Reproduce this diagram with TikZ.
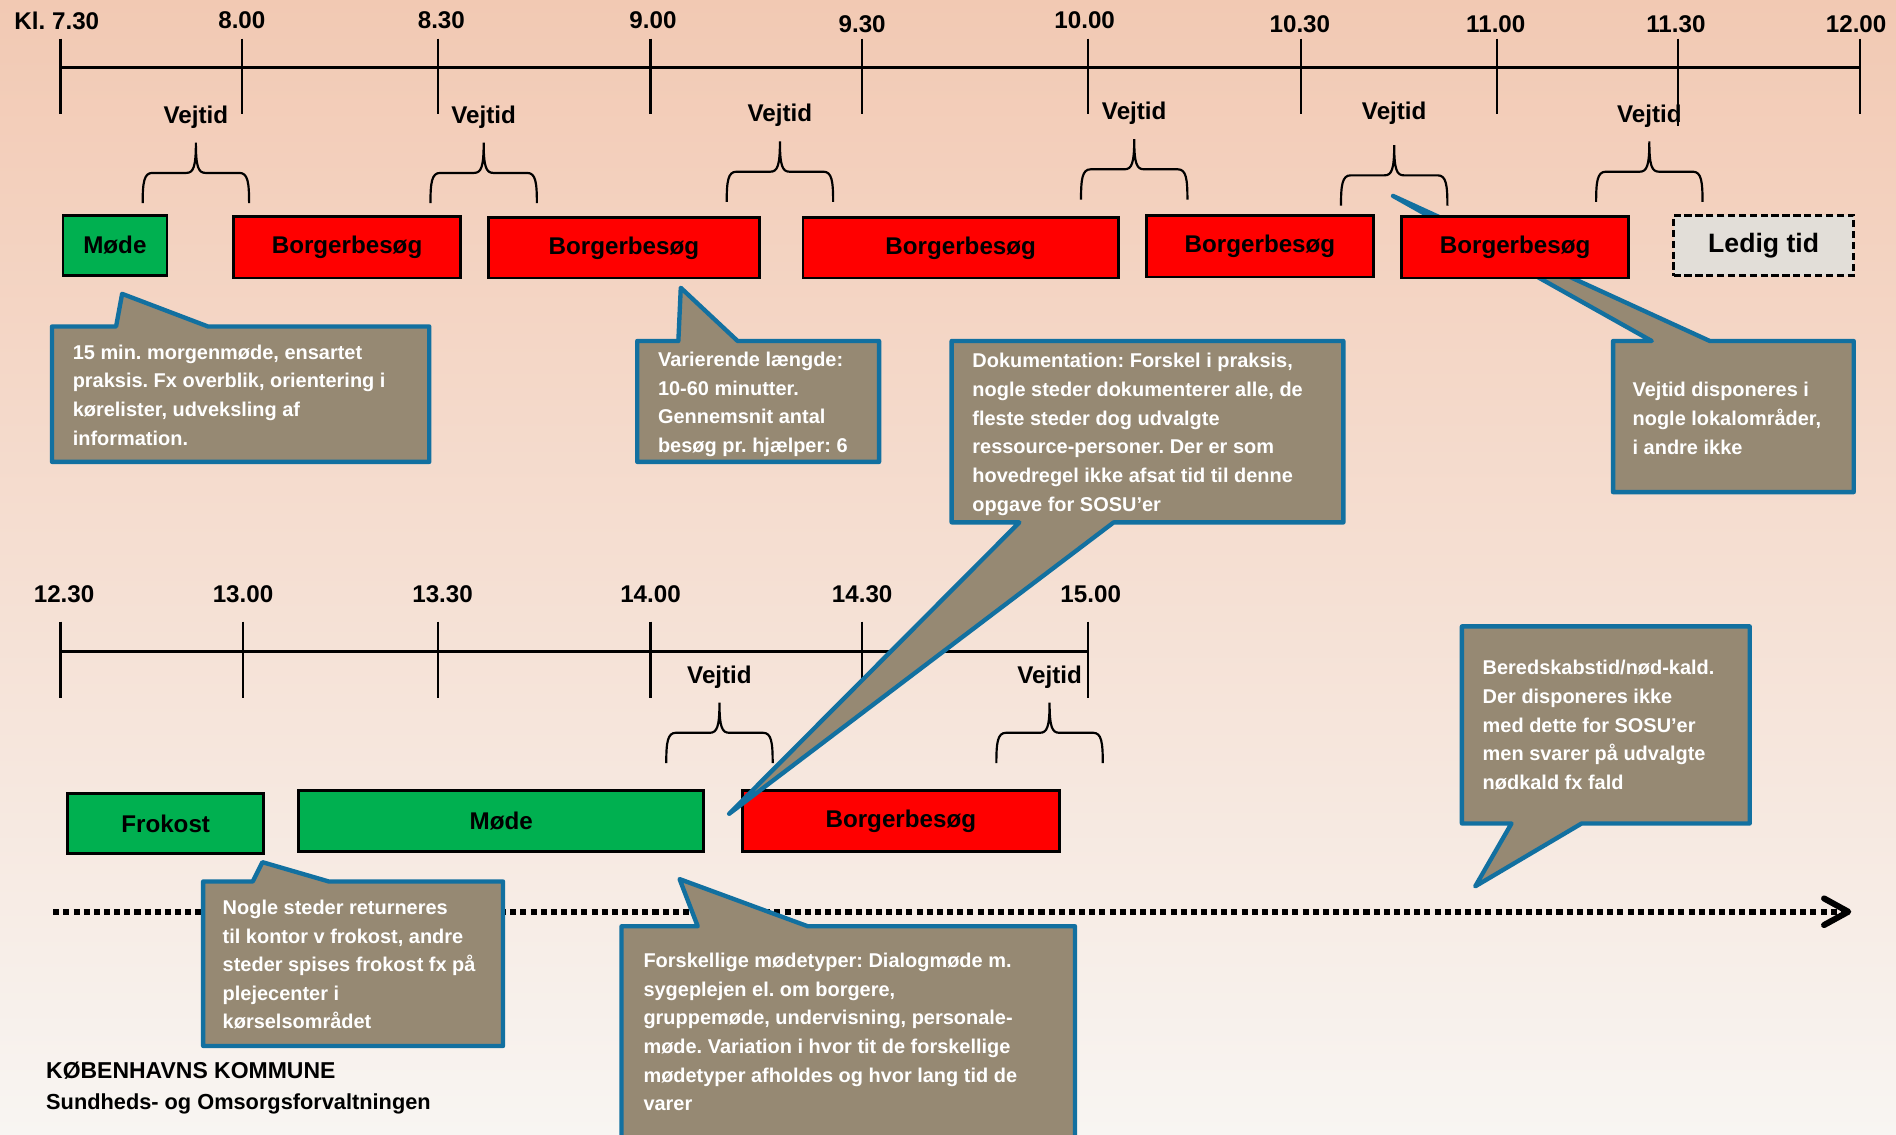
\documentclass[tikz,border=0pt]{standalone}
\usepackage{fontspec}
\setmainfont{Liberation Sans}
\frenchspacing
\usetikzlibrary{arrows.meta,calc,positioning}
\definecolor{bgtop}{RGB}{242,201,179}
\definecolor{bgmid}{RGB}{247,226,212}
\definecolor{bgbottom}{RGB}{248,245,242}
\definecolor{notebrown}{RGB}{150,137,115}
\definecolor{noteblue}{RGB}{18,112,160}
\definecolor{visitred}{RGB}{255,0,0}
\definecolor{meetgreen}{RGB}{0,176,80}
\definecolor{freegray}{RGB}{226,222,216}

\begin{document}
\begin{tikzpicture}[x=1pt,y=-1pt,% pixel grid, y grows downwards
	every node/.style={inner sep=0pt,font=\bfseries},
	axis/.style={line width=2.4pt},
	tick/.style={line width=1.8pt},
	timelabel/.style={font=\fontsize{20}{24}\selectfont\bfseries},
	slot/.style={draw=black,line width=2.2pt,font=\fontsize{20}{24}\selectfont\bfseries},
	visit/.style={slot,fill=visitred},
	meeting/.style={slot,fill=meetgreen},
	free/.style={slot,fill=freegray,dash pattern=on 6pt off 3pt,font=\fontsize{22}{26}\selectfont\bfseries},
	note/.style={fill=notebrown,draw=noteblue,line width=3.6pt,line join=round},
	notetext/.style={text=white,align=left,anchor=north west,font=\fontsize{16.5}{23.7}\selectfont\bfseries},
	bracepen/.style={line width=1.8pt},
	dotline/.style={line width=5pt,dash pattern=on 5pt off 3.4pt,-{Straight Barb[length=20pt,width=22pt,round]}},
	footer/.style={anchor=west,font=\fontsize{19}{23}\selectfont\bfseries},
	pics/vejbrace/.style={code={
		\draw[bracepen] (-44,25) .. controls (-44,8) and (-43,0) .. (-36,0) -- (-8,0)
			.. controls (-2,0) and (0,-5) .. (0,-25) .. controls (0,-5) and (2,0) .. (8,0)
			-- (36,0) .. controls (43,0) and (44,8) .. (44,25);
	}}
	]
	\clip (0,0) rectangle (1568,938);
	\shade[top color=bgtop,middle color=bgmid,bottom color=bgbottom] (0,0) rectangle (1568,938);

	% morning time line
	\draw[axis] (50,56) -- (1538,56);
	\foreach \x/\lx/\ly/\t [count=\i] in {50/47/17/Kl. 7.30,200/200/17/8.00,362/365/17/8.30,
		538/540/17/9.00,713/713/20/9.30,900/897/17/10.00,1076/1075/20/10.30,1238/1237/20/11.00,
		1538/1535/20/12.00}
		{\draw[tick] (\x,32) -- (\x,94);
		\node[timelabel] (am\i) at (\lx,\ly) {\t};}
	\draw[tick] (1388,32) -- (1388,104);
	\node[timelabel] (am1130) at (1386,20) {11.30};

	% afternoon time line
	\draw[axis] (50,539) -- (900,539);
	\foreach \x/\lx/\t [count=\i] in {50/53/12.30,201/201/13.00,362/366/13.30,538/538/14.00,
		713/713/14.30,900/902/15.00}
		{\draw[tick] (\x,514) -- (\x,577);
		\node[timelabel] (pm\i) at (\lx,491) {\t};}

	% travel time braces
	\foreach \x/\y/\ly [count=\i] in {162/143/97,400/143/97,645/142/95,938/140/94,1153/145/94,
		1364/142/96,595/606/560,868/606/560}
		{\pic at (\x,\y) {vejbrace};
		\node[timelabel] (vej\i) at (\x,\ly) {Vejtid};}

	% rest of the day
	\draw[dotline] (44,754) -- (1531,754);

	% callout behind the last visit
	\coordinate (tipD) at (1152,162);
	\filldraw[note] (1334,282) -- (1366,282) -- (tipD) -- (1414,282) -- (1533,282)
		-- (1533,407) -- (1334,407) -- cycle;
	\node[notetext] (disp) at (1350,316) {Vejtid disponeres i\\nogle lokalområder,\\i andre ikke};

	% morning slots
	\node[meeting,minimum width=86,minimum height=50] (mode1) at (95,203) {Møde};
	\node[visit,minimum width=188,minimum height=51] (visit1) at (287,204.5) {Borgerbesøg};
	\node[visit,minimum width=224,minimum height=50] (visit2) at (516,205) {Borgerbesøg};
	\node[visit,minimum width=261,minimum height=50] (visit3) at (794.5,205) {Borgerbesøg};
	\node[visit,minimum width=188,minimum height=51] (visit4) at (1042,203.5) {Borgerbesøg};
	\node[visit,minimum width=188,minimum height=51] (visit5) at (1253,204.5) {Borgerbesøg};
	\node[free,minimum width=149,minimum height=50] (ledig) at (1458.5,203) {Ledig tid};

	% afternoon slots
	\node[meeting,minimum width=162,minimum height=50] (lunch) at (137,681) {Frokost};
	\node[meeting,minimum width=335,minimum height=50] (mode2) at (414.5,679) {Møde};
	\node[visit,minimum width=262,minimum height=50] (visit6) at (745,679) {Borgerbesøg};

	% callouts
	\coordinate (tipA) at (101,243);
	\filldraw[note] (43,270) -- (96,270) -- (tipA) -- (172,270) -- (355,270)
		-- (355,382) -- (43,382) -- cycle;
	\node[notetext] (morgen) at (60,285) {15 min. morgenmøde, ensartet\\praksis. Fx overblik, orientering i\\kørelister, udveksling af\\information.};

	\coordinate (tipB) at (563,238);
	\filldraw[note] (527,282) -- (561,282) -- (tipB) -- (610,282) -- (727,282)
		-- (727,382) -- (527,382) -- cycle;
	\node[notetext] (laengde) at (544,291) {Varierende længde:\\10-60 minutter.\\Gennemsnit antal\\besøg pr. hjælper: 6};

	\coordinate (tipC) at (603,673);
	\filldraw[note] (787,282) -- (1111,282) -- (1111,432) -- (921,432) -- (tipC)
		-- (843,432) -- (787,432) -- cycle;
	\node[notetext] (dok) at (804,292) {Dokumentation: Forskel i praksis,\\nogle steder dokumenterer alle, de\\fleste steder dog udvalgte\\ressource-personer. Der er som\\hovedregel ikke afsat tid til denne\\opgave for SOSU’er};

	\coordinate (tipE) at (217,713);
	\filldraw[note] (168,729) -- (209,729) -- (tipE) -- (272,729) -- (416,729)
		-- (416,865) -- (168,865) -- cycle;
	\node[notetext] (frokost) at (184,744) {Nogle steder returneres\\til kontor v frokost, andre\\steder spises frokost fx på\\plejecenter i\\kørselsområdet};

	\coordinate (tipF) at (562,727);
	\filldraw[note] (514,766) -- (577,766) -- (tipF) -- (668,766) -- (889,766)
		-- (889,948) -- (514,948) -- cycle;
	\node[notetext] (modetyper) at (532,788) {Forskellige mødetyper: Dialogmøde m.\\sygeplejen el. om borgere,\\gruppemøde, undervisning, personale-\\møde. Variation i hvor tit de forskellige\\mødetyper afholdes og hvor lang tid de\\varer};

	\coordinate (tipG) at (1220,733);
	\filldraw[note] (1209,518) -- (1447,518) -- (1447,681) -- (1308,681) -- (tipG)
		-- (1250,681) -- (1209,681) -- cycle;
	\node[notetext] (beredskab) at (1226,546) {Beredskabstid/nød-kald.\\Der disponeres ikke\\med dette for SOSU’er\\men svarer på udvalgte\\nødkald fx fald};

	% footer
	\node[footer] (kk) at (38,885) {KØBENHAVNS KOMMUNE};
	\node[footer,font=\fontsize{18}{22}\selectfont\bfseries] (sof) at (38,913) {Sundheds- og Omsorgsforvaltningen};
\end{tikzpicture}
\end{document}
